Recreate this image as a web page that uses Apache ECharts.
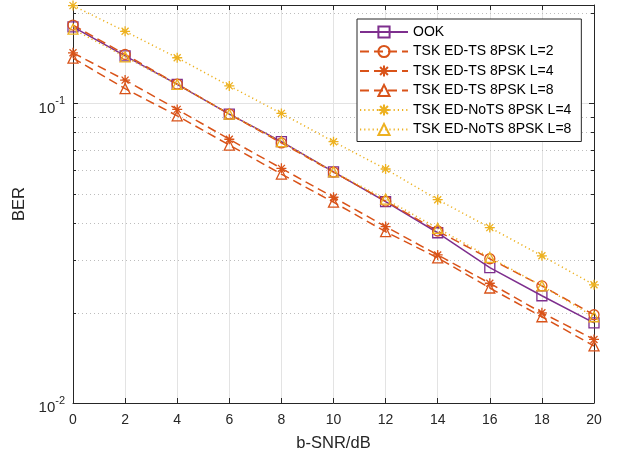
<!DOCTYPE html>
<html>
<head>
<meta charset="utf-8">
<title>BER vs b-SNR</title>
<script src="https://cdn.jsdelivr.net/npm/echarts@6/dist/echarts.min.js"></script>
<style>
  html, body { margin: 0; padding: 0; background: #fff; }
  #chart { width: 618px; height: 455px; }
</style>
</head>
<body>
<div id="chart"></div>
<script>
// b-SNR in dB
const snr = [0, 2, 4, 6, 8, 10, 12, 14, 16, 18, 20];

// bit error rate for each scheme
const ook        = [0.180, 0.144, 0.1157, 0.0921, 0.0745, 0.0591, 0.0470, 0.0370, 0.0283, 0.0228, 0.0185];
const tsL2       = [0.1825, 0.1457, 0.1160, 0.0921, 0.0738, 0.0590, 0.0472, 0.0375, 0.0303, 0.0246, 0.0197];
const tsL4       = [0.1475, 0.1196, 0.0955, 0.0759, 0.0607, 0.0486, 0.0388, 0.0312, 0.0251, 0.0200, 0.0163];
const tsL8       = [0.1416, 0.1120, 0.0909, 0.0726, 0.0581, 0.0468, 0.0373, 0.0305, 0.0242, 0.0194, 0.0155];
const noTsL4     = [0.212, 0.174, 0.142, 0.1144, 0.0926, 0.0745, 0.0604, 0.0477, 0.0385, 0.0310, 0.0248];
const noTsL8     = [0.177, 0.143, 0.1157, 0.0921, 0.0745, 0.0591, 0.0479, 0.0383, 0.0306, 0.0246, 0.0194];

const seriesNames = [
  'OOK',
  'TSK ED-TS 8PSK L=2',
  'TSK ED-TS 8PSK L=4',
  'TSK ED-TS 8PSK L=8',
  'TSK ED-NoTS 8PSK L=4',
  'TSK ED-NoTS 8PSK L=8'
];

// minor decade positions for the dotted grid
const minorTicks = [0.02, 0.03, 0.04, 0.05, 0.06, 0.07, 0.08, 0.09, 0.2];

const X_MIN = 0, X_MAX = 20, Y_MIN = 0.01, Y_MAX = 0.213;

const PURPLE = '#7E2F8E', ORANGE = '#D95319', YELLOW = '#EDB120';
const AXIS = '#262626';
const FONT = '"Liberation Sans", Arial, Helvetica, sans-serif';
const ASTERISK = 'path://M5,0L5,10M0,5L10,5M1.5,1.5L8.5,8.5M8.5,1.5L1.5,8.5';
const DASH = [9, 5];
const DOT = [1.2, 3];

function pairs(ys) { return snr.map((x, i) => [x, ys[i]]); }

function makeSeries(name, ys, color, symbol, lineType) {
  return {
    name: name,
    type: 'line',
    data: pairs(ys),
    symbol: symbol,
    symbolSize: 10,
    showAllSymbol: true,
    lineStyle: { color: color, width: 1.5, type: lineType },
    itemStyle: { color: 'rgba(0,0,0,0)', borderColor: color, borderWidth: 1.3 },
    emphasis: { disabled: true },
    z: 3
  };
}

const chart = echarts.init(document.getElementById('chart'), null, { renderer: 'canvas' });

chart.setOption({
  animation: false,
  backgroundColor: '#ffffff',
  grid: { left: 73, right: 24, top: 5, bottom: 52, containLabel: false, outerBoundsMode: 'none' },
  legend: {
    data: seriesNames,
    orient: 'vertical',
    left: 357,
    top: 19,
    padding: [6, 10, 5, 2],
    itemWidth: 48,
    itemHeight: 14,
    itemGap: 5.5,
    backgroundColor: '#ffffff',
    borderColor: AXIS,
    borderWidth: 1,
    textStyle: { fontFamily: FONT, fontSize: 14, color: '#000' },
    selectedMode: false
  },
  xAxis: [
    {
      type: 'value',
      min: X_MIN,
      max: X_MAX,
      interval: 2,
      name: 'b-SNR/dB',
      nameLocation: 'middle',
      nameGap: 32,
      nameTextStyle: { fontFamily: FONT, fontSize: 16.5, color: AXIS },
      axisLine: { show: true, onZero: false, lineStyle: { color: AXIS, width: 1 } },
      axisTick: { show: true, inside: true, length: 5, lineStyle: { color: AXIS } },
      axisLabel: { fontFamily: FONT, fontSize: 14, color: AXIS, margin: 10 },
      splitLine: { show: true, lineStyle: { color: '#e3e3e3', width: 1 } }
    },
    {
      type: 'value',
      position: 'top',
      min: X_MIN,
      max: X_MAX,
      interval: 2,
      axisLine: { show: true, onZero: false, lineStyle: { color: AXIS, width: 1 } },
      axisTick: { show: true, inside: true, length: 5, lineStyle: { color: AXIS } },
      axisLabel: { show: false },
      splitLine: { show: false }
    }
  ],
  yAxis: [
    {
      type: 'log',
      logBase: 10,
      min: Y_MIN,
      max: Y_MAX,
      name: 'BER',
      nameLocation: 'middle',
      nameGap: 44,
      nameTextStyle: { fontFamily: FONT, fontSize: 16.5, color: AXIS },
      axisLine: { show: true, onZero: false, lineStyle: { color: AXIS, width: 1 } },
      axisTick: { show: true, inside: true, length: 5, lineStyle: { color: AXIS } },
      axisLabel: {
        margin: 8,
        formatter: function (v) {
          const e = Math.log10(v);
          const r = Math.round(e);
          if (Math.abs(e - r) > 1e-6) return '';
          return '{b|10}{s|' + r + '}';
        },
        rich: {
          b: { fontFamily: FONT, fontSize: 15, color: AXIS, lineHeight: 15, padding: [5, 0, 0, 0], verticalAlign: 'top' },
          s: { fontFamily: FONT, fontSize: 11, color: AXIS, lineHeight: 11, padding: [0, 0, 9, 0], verticalAlign: 'top' }
        }
      },
      splitLine: { show: true, lineStyle: { color: '#e3e3e3', width: 1 } }
    },
    {
      type: 'log',
      logBase: 10,
      position: 'right',
      min: Y_MIN,
      max: Y_MAX,
      axisLine: { show: true, onZero: false, lineStyle: { color: AXIS, width: 1 } },
      axisTick: { show: true, inside: true, length: 5, lineStyle: { color: AXIS } },
      axisLabel: { show: false },
      splitLine: { show: false }
    }
  ],
  series: [
    {
      // dotted minor grid lines with short minor ticks on both y axes
      name: 'minor-grid',
      type: 'custom',
      xAxisIndex: 0,
      yAxisIndex: 0,
      silent: true,
      z: 1,
      data: minorTicks.map(v => [X_MIN, v]),
      encode: { x: 0, y: 1 },
      renderItem: function (params, api) {
        const v = api.value(1);
        const l = api.coord([X_MIN, v]);
        const r = api.coord([X_MAX, v]);
        const y = Math.round(l[1]) + 0.5;
        return {
          type: 'group',
          children: [
            { type: 'line', shape: { x1: l[0] + 1, y1: y, x2: r[0] - 1, y2: y },
              style: { stroke: '#bdbdbd', lineWidth: 1, lineDash: [1, 3] } },
            { type: 'line', shape: { x1: l[0], y1: y, x2: l[0] + 3, y2: y },
              style: { stroke: AXIS, lineWidth: 1 } },
            { type: 'line', shape: { x1: r[0] - 3, y1: y, x2: r[0], y2: y },
              style: { stroke: AXIS, lineWidth: 1 } }
          ]
        };
      }
    },
    makeSeries(seriesNames[0], ook, PURPLE, 'rect', 'solid'),
    makeSeries(seriesNames[1], tsL2, ORANGE, 'circle', DASH),
    makeSeries(seriesNames[2], tsL4, ORANGE, ASTERISK, DASH),
    makeSeries(seriesNames[3], tsL8, ORANGE, 'triangle', DASH),
    makeSeries(seriesNames[4], noTsL4, YELLOW, ASTERISK, DOT),
    makeSeries(seriesNames[5], noTsL8, YELLOW, 'triangle', DOT)
  ]
});
</script>
</body>
</html>
